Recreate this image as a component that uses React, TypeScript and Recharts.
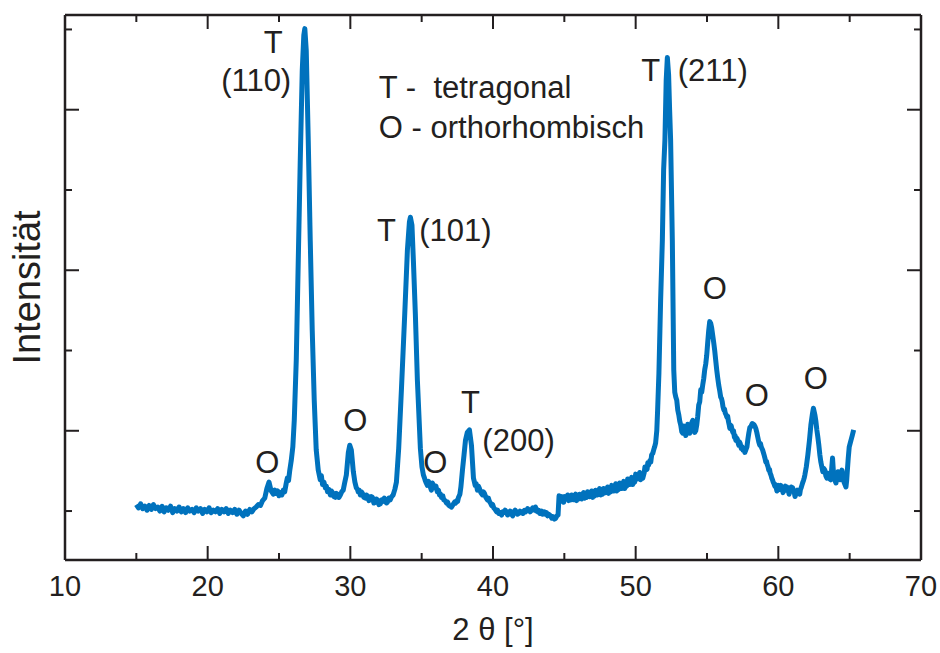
import React from 'react';
import { LineChart, Line, XAxis, YAxis, ReferenceDot, Label } from 'recharts';

// ---- data (2θ in degrees, intensity in arbitrary counts) ----
const lowAngleScan: [number, number][] = [
  [15.0, 8], [15.15, 4], [15.3, 9], [15.45, 3], [15.6, 6], [15.75, 1], [15.9, 7], [16.05, 2], [16.2, 8], [16.35, 3],
  [16.5, 5], [16.65, 0], [16.8, 6], [16.95, -1], [17.1, 4], [17.25, 1], [17.4, 6], [17.55, -2], [17.7, 3], [17.85, 0],
  [18.0, 5], [18.15, -1], [18.3, 3], [18.45, -2], [18.6, 4], [18.75, 0], [18.9, 2], [19.05, -2], [19.2, 4], [19.35, 0],
  [19.5, 3], [19.65, -3], [19.8, 2], [19.95, -1], [20.1, 4], [20.25, -2], [20.4, 1], [20.55, -1], [20.7, 3], [20.85, -3],
  [21.0, 2], [21.15, -1], [21.3, 3], [21.45, -3], [21.6, 1], [21.75, -2], [21.9, 2], [22.05, -4], [22.2, 1], [22.35, -3],
  [22.5, -6], [22.65, 0], [22.8, -4], [22.95, 2], [23.1, -1], [23.25, 3], [23.4, 5], [23.55, 8], [23.7, 7], [23.85, 13],
  [24.0, 16], [24.15, 28], [24.3, 36], [24.45, 25], [24.6, 21], [24.7, 26], [24.8, 22], [24.9, 25], [25.0, 19],
  [25.1, 23], [25.2, 20], [25.3, 26], [25.4, 24],
];

const midAngleScan: [number, number][] = [
  [25.5, 34], [25.58, 41], [25.67, 38], [25.75, 50], [25.86, 63], [25.97, 80], [26.07, 113], [26.21, 188],
  [26.35, 312], [26.49, 437], [26.63, 549], [26.74, 593], [26.81, 601], [26.91, 574], [27.05, 462], [27.19, 337],
  [27.33, 225], [27.47, 138], [27.61, 76], [27.75, 51], [27.89, 39], [27.97, 44], [28.05, 33], [28.15, 36],
  [28.25, 29], [28.32, 31], [28.4, 24], [28.5, 27], [28.6, 20], [28.68, 25], [28.75, 23], [28.85, 18], [28.95, 17],
  [29.02, 22], [29.1, 21], [29.2, 17], [29.3, 20], [29.4, 24], [29.5, 26], [29.6, 35], [29.72, 45], [29.86, 73],
  [29.96, 82], [30.07, 76], [30.21, 49], [30.32, 36], [30.42, 29], [30.5, 27], [30.55, 24], [30.62, 26], [30.7, 20],
  [30.78, 24], [30.85, 22], [30.95, 17], [31.05, 16], [31.12, 20], [31.2, 19], [31.3, 13], [31.4, 14], [31.47, 18],
  [31.55, 17], [31.65, 10], [31.75, 11], [31.82, 15], [31.9, 14], [32.0, 8], [32.1, 9], [32.2, 14], [32.3, 12],
  [32.38, 16], [32.46, 14], [32.53, 10], [32.6, 11], [32.7, 16], [32.8, 14], [32.9, 18], [33.0, 20], [33.12, 27],
  [33.23, 36], [33.39, 78], [33.58, 151], [33.81, 244], [34.0, 325], [34.14, 360], [34.21, 366], [34.32, 356],
  [34.42, 312], [34.56, 244], [34.7, 163], [34.91, 78], [35.02, 55], [35.12, 45], [35.2, 41], [35.25, 38],
  [35.32, 35], [35.4, 32], [35.48, 37], [35.55, 34], [35.62, 29], [35.68, 26], [35.75, 35], [35.8, 33], [35.9, 29],
  [36.0, 31], [36.05, 27], [36.1, 24], [36.18, 26], [36.25, 20], [36.32, 21], [36.39, 17], [36.48, 19], [36.55, 14],
  [36.65, 13], [36.74, 10], [36.82, 11], [36.9, 7], [37.0, 6], [37.09, 5], [37.2, 8], [37.3, 11], [37.38, 10],
  [37.45, 13], [37.52, 12], [37.58, 17], [37.68, 21], [37.75, 30], [37.86, 51], [37.97, 70], [38.07, 88], [38.2, 98],
  [38.35, 101], [38.49, 82], [38.63, 41], [38.7, 36], [38.75, 32], [38.82, 34], [38.91, 26], [38.98, 31],
  [39.05, 28], [39.15, 23], [39.26, 20], [39.33, 24], [39.4, 22], [39.5, 17], [39.61, 14], [39.68, 16], [39.75, 12],
  [39.82, 10], [39.9, 7], [39.98, 8], [40.05, 4], [40.15, 2], [40.25, -1], [40.32, 1], [40.4, -3], [40.5, -2],
  [40.6, -5], [40.68, -1], [40.75, -2], [40.85, 1], [40.95, -1], [41.02, -5], [41.1, -4], [41.2, 0], [41.3, -4],
  [41.38, -6], [41.45, -1], [41.55, 1], [41.65, -1], [41.72, -4], [41.8, -3], [41.9, 0], [42.0, -2], [42.1, -3],
  [42.2, 1], [42.28, -1], [42.35, 0], [42.42, 3], [42.5, 2], [42.6, -1], [42.7, 1], [42.78, 4], [42.85, 3],
  [42.92, 1], [42.98, 5], [43.05, 0], [43.1, 2], [43.15, -1], [43.2, 1], [43.28, -3], [43.35, -2], [43.42, 0],
  [43.47, -4], [43.55, -3], [43.6, -1], [43.68, -4], [43.75, -2], [43.82, -6], [43.9, -4], [43.97, -5], [44.04, -6],
  [44.12, -9], [44.2, -7], [44.3, -10], [44.39, -9], [44.48, -6], [44.56, -5], [44.63, 19], [44.7, 15], [44.75, 12],
];

const highAngleScan: [number, number][] = [
  [44.82, 18], [44.88, 14], [44.95, 11], [45.02, 18], [45.09, 15], [45.16, 16], [45.23, 20], [45.3, 13], [45.37, 16],
  [45.44, 14], [45.51, 20], [45.58, 19], [45.65, 14], [45.72, 17], [45.79, 21], [45.86, 13], [45.93, 17], [46.0, 15],
  [46.07, 21], [46.14, 19], [46.21, 15], [46.28, 20], [46.35, 23], [46.42, 16], [46.49, 18], [46.56, 17], [46.63, 24],
  [46.7, 22], [46.77, 18], [46.84, 21], [46.91, 25], [46.98, 17], [47.05, 21], [47.12, 19], [47.19, 26], [47.26, 24],
  [47.33, 20], [47.4, 24], [47.47, 28], [47.54, 20], [47.61, 24], [47.68, 21], [47.75, 28], [47.82, 27], [47.89, 23],
  [47.96, 26], [48.03, 30], [48.1, 22], [48.17, 26], [48.25, 24], [48.32, 32], [48.39, 30], [48.46, 25], [48.53, 29],
  [48.6, 34], [48.67, 25], [48.74, 29], [48.81, 27], [48.88, 35], [48.95, 33], [49.02, 28], [49.09, 32], [49.16, 37],
  [49.23, 28], [49.3, 33], [49.37, 31], [49.44, 40], [49.51, 38], [49.58, 33], [49.65, 37], [49.72, 42], [49.79, 33],
  [49.86, 38], [49.93, 36], [50.0, 46], [50.07, 45], [50.14, 40], [50.21, 44], [50.28, 48], [50.35, 39], [50.42, 44],
  [50.5, 41], [50.6, 48], [50.65, 55], [50.7, 51], [50.8, 52], [50.85, 60], [50.9, 57], [51.0, 63], [51.06, 61],
  [51.12, 70], [51.2, 72], [51.26, 76], [51.33, 80], [51.4, 85], [51.48, 100], [51.54, 126], [51.63, 172],
  [51.75, 263], [51.87, 337], [51.96, 425], [52.05, 462], [52.14, 537], [52.22, 565], [52.31, 543], [52.38, 500],
  [52.45, 462], [52.57, 337], [52.67, 176], [52.74, 148], [52.81, 142], [52.88, 138], [52.95, 126], [53.02, 120],
  [53.09, 112], [53.16, 107], [53.23, 99], [53.3, 97], [53.37, 106], [53.44, 103], [53.51, 94], [53.58, 97],
  [53.65, 108], [53.72, 107], [53.79, 97], [53.86, 101], [53.93, 110], [54.0, 113], [54.07, 104], [54.14, 98],
  [54.21, 100], [54.28, 107], [54.35, 118], [54.42, 132], [54.49, 136], [54.56, 151], [54.63, 148], [54.7, 157],
  [54.77, 165], [54.84, 176], [54.91, 183], [54.98, 194], [55.05, 210], [55.12, 225], [55.19, 236], [55.26, 234],
  [55.33, 228], [55.4, 219], [55.47, 210], [55.54, 200], [55.61, 188], [55.68, 176], [55.75, 166], [55.82, 157],
  [55.89, 150], [55.96, 142], [56.02, 140], [56.07, 136], [56.12, 130], [56.18, 126], [56.23, 127], [56.28, 122],
  [56.34, 120], [56.39, 117], [56.45, 118], [56.5, 112], [56.55, 108], [56.6, 103], [56.65, 107], [56.7, 106],
  [56.76, 101], [56.81, 98], [56.86, 100], [56.92, 92], [56.97, 94], [57.02, 88], [57.07, 91], [57.12, 90],
  [57.18, 85], [57.23, 82], [57.28, 86], [57.33, 84], [57.4, 78], [57.46, 80], [57.52, 76], [57.58, 78], [57.65, 73],
  [57.72, 76], [57.8, 80], [57.87, 90], [57.93, 97], [58.0, 104], [58.07, 105], [58.17, 109], [58.28, 108],
  [58.35, 106], [58.42, 103], [58.49, 98], [58.56, 92], [58.63, 86], [58.7, 82], [58.75, 84], [58.8, 80],
  [58.85, 78], [58.9, 76], [58.95, 73], [59.0, 70], [59.06, 66], [59.12, 61], [59.17, 62], [59.22, 58], [59.28, 55],
  [59.33, 51], [59.38, 52], [59.43, 47], [59.48, 45], [59.54, 41], [59.59, 39], [59.64, 36], [59.7, 34], [59.75, 31],
  [59.8, 33], [59.85, 29], [59.9, 25], [59.96, 26], [60.01, 32], [60.06, 30], [60.12, 27], [60.17, 32], [60.22, 29],
  [60.27, 27], [60.33, 23], [60.38, 26], [60.43, 29], [60.48, 31], [60.54, 26], [60.6, 30], [60.65, 28], [60.7, 26],
  [60.75, 21], [60.8, 24], [60.85, 27], [60.9, 30], [60.95, 26], [61.0, 29], [61.06, 25], [61.12, 23], [61.17, 18],
  [61.23, 21], [61.28, 24], [61.33, 26], [61.38, 22], [61.44, 24], [61.5, 21], [61.55, 27], [61.6, 29], [61.65, 32],
  [61.7, 35], [61.76, 38], [61.81, 41], [61.86, 45], [61.96, 55], [62.07, 70], [62.18, 88], [62.28, 107],
  [62.38, 120], [62.46, 128], [62.56, 120], [62.63, 112], [62.7, 101], [62.77, 92], [62.84, 82], [62.91, 70],
  [62.98, 61], [63.05, 55], [63.12, 49], [63.19, 53], [63.26, 51], [63.33, 44], [63.4, 41], [63.47, 47], [63.54, 45],
  [63.61, 40], [63.68, 39], [63.75, 55], [63.8, 66], [63.85, 52], [63.89, 41], [63.97, 38], [64.04, 35], [64.11, 42],
  [64.18, 49], [64.25, 44], [64.32, 39], [64.39, 45], [64.46, 51], [64.53, 44], [64.6, 36], [64.67, 33], [64.74, 30],
  [64.79, 38], [64.84, 51], [64.9, 66], [64.97, 80], [65.03, 84], [65.09, 88], [65.18, 94], [65.28, 101],
];

const xTicks = [10, 15, 20, 25, 30, 35, 40, 45, 50, 55, 60, 65, 70];
const xMajorLabels = [10, 20, 30, 40, 50, 60, 70];
const yTicks = [0, 100, 200, 300, 400, 500, 600];
const yMajorTicks = [100, 300, 500];

// peak annotations: [text, 2θ, intensity]
const peakLabels: [string, number, number][] = [
  ['T', 24.6, 584],
  ['(110)', 23.4, 537],
  ['T', 32.53, 350],
  ['(101)', 37.37, 350],
  ['O', 24.18, 61],
  ['O', 30.35, 113],
  ['O', 35.96, 61],
  ['T', 38.42, 136],
  ['(200)', 41.79, 88],
  ['T', 51.05, 549],
  ['(211)', 55.4, 549],
  ['O', 55.54, 278],
  ['O', 58.49, 144],
  ['O', 62.63, 166],
];
// legend lines (left aligned): [text, 2θ, intensity]
const legendLines: [string, number, number][] = [
  ['T -\u00A0\u00A0tetragonal', 32.0, 528],
  ['O - orthorhombisch', 32.0, 478],
];

const chartData = [...lowAngleScan, ...midAngleScan, ...highAngleScan].map(([angle, counts]) => ({ angle, counts }));

const INK = '#231f20';
const BLUE = '#0072BD';
const FONT = '"Liberation Sans", Arial, sans-serif';
const TEXT_SIZE = 31;

const BottomTick = (props: any) => {
  const { x, y, payload } = props;
  const v = payload.value;
  const major = xMajorLabels.includes(v);
  return (
    <g>
      <line x1={x} y1={y} x2={x} y2={y - (major ? 14 : 7)} stroke={INK} strokeWidth={2} />
      {major && (
        <text x={x} y={y + 36} textAnchor="middle" fontSize={29} fill={INK} fontFamily={FONT}>
          {v}
        </text>
      )}
    </g>
  );
};

const TopTick = (props: any) => {
  const { x, y, payload } = props;
  const major = xMajorLabels.includes(payload.value);
  return <line x1={x} y1={y} x2={x} y2={y + (major ? 14 : 7)} stroke={INK} strokeWidth={2} />;
};

const LeftTick = (props: any) => {
  const { x, y, payload } = props;
  const major = yMajorTicks.includes(payload.value);
  return <line x1={x} y1={y} x2={x + (major ? 14 : 7)} y2={y} stroke={INK} strokeWidth={2} />;
};

const RightTick = (props: any) => {
  const { x, y, payload } = props;
  const major = yMajorTicks.includes(payload.value);
  return <line x1={x} y1={y} x2={x - (major ? 14 : 7)} y2={y} stroke={INK} strokeWidth={2} />;
};

export default function App() {
  return (
    <div style={{ position: 'absolute', left: 0, top: 0, width: 940, height: 653 }}>
      <LineChart
        width={940}
        height={653}
        data={chartData}
        margin={{ top: 14, right: 18, bottom: 0, left: 0 }}
      >
        <XAxis
          dataKey="angle"
          type="number"
          domain={[10, 70]}
          ticks={xTicks}
          interval={0}
          height={93}
          tickSize={0}
          tickMargin={0}
          tickLine={false}
          tick={<BottomTick />}
          axisLine={{ stroke: INK, strokeWidth: 2.5 }}
          allowDataOverflow
        >
          <Label
            value={'2 θ [°]'}
            position="insideBottom"
            offset={13}
            fontSize={31}
            fill={INK}
            fontFamily={FONT}
          />
        </XAxis>
        <XAxis
          xAxisId="top"
          orientation="top"
          dataKey="angle"
          type="number"
          domain={[10, 70]}
          ticks={xTicks}
          interval={0}
          height={1}
          tickSize={0}
          tickMargin={0}
          tickLine={false}
          tick={<TopTick />}
          axisLine={{ stroke: INK, strokeWidth: 2.5 }}
          allowDataOverflow
        />
        <YAxis
          type="number"
          domain={[-61, 618]}
          ticks={yTicks}
          interval={0}
          width={65}
          tickSize={0}
          tickMargin={0}
          tickLine={false}
          tick={<LeftTick />}
          axisLine={{ stroke: INK, strokeWidth: 2.5 }}
          allowDataOverflow
        >
          <Label
            value="Intensität"
            angle={-90}
            position="insideLeft"
            offset={27}
            fontSize={38}
            fill={INK}
            fontFamily={FONT}
            style={{ textAnchor: 'middle' }}
          />
        </YAxis>
        <YAxis
          yAxisId="right"
          orientation="right"
          type="number"
          domain={[-61, 618]}
          ticks={yTicks}
          interval={0}
          width={1}
          tickSize={0}
          tickMargin={0}
          tickLine={false}
          tick={<RightTick />}
          axisLine={{ stroke: INK, strokeWidth: 2.5 }}
          allowDataOverflow
        />
        {/* invisible twin bound to the top / right frame axes */}
        <Line
          xAxisId="top"
          yAxisId="right"
          type="linear"
          dataKey="counts"
          stroke="none"
          strokeOpacity={0}
          dot={false}
          activeDot={false}
          isAnimationActive={false}
        />
        <Line
          type="linear"
          dataKey="counts"
          stroke={BLUE}
          strokeWidth={5}
          strokeLinejoin="round"
          dot={false}
          isAnimationActive={false}
        />
        {peakLabels.map(([text, a, c], i) => (
          <ReferenceDot
            key={'p' + i}
            x={a}
            y={c}
            r={0}
            fill="none"
            stroke="none"
            label={{ value: text, position: 'center', fontSize: TEXT_SIZE, fill: INK, fontFamily: FONT }}
          />
        ))}
        {legendLines.map(([text, a, c], i) => (
          <ReferenceDot
            key={'l' + i}
            x={a}
            y={c}
            r={0}
            fill="none"
            stroke="none"
            label={{ value: text, position: 'right', offset: 0, fontSize: TEXT_SIZE, fill: INK, fontFamily: FONT }}
          />
        ))}
      </LineChart>
    </div>
  );
}
